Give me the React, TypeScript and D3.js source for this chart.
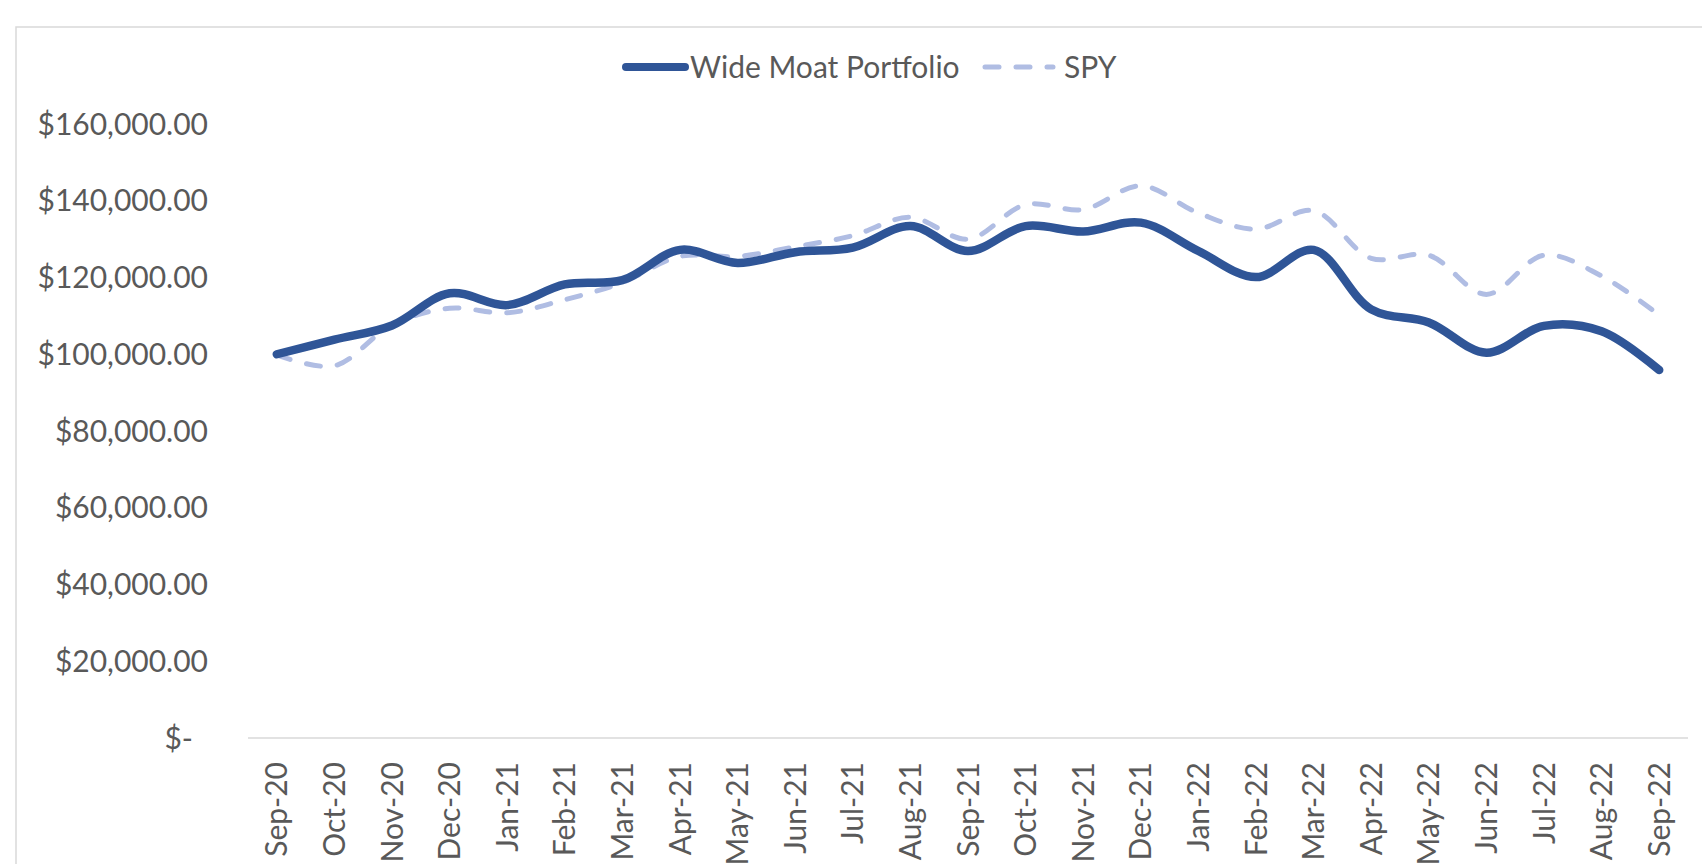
import * as d3 from 'd3';
import { useEffect } from 'react';

const months = ['Sep-20', 'Oct-20', 'Nov-20', 'Dec-20', 'Jan-21', 'Feb-21', 'Mar-21', 'Apr-21', 'May-21', 'Jun-21', 'Jul-21', 'Aug-21', 'Sep-21', 'Oct-21', 'Nov-21', 'Dec-21', 'Jan-22', 'Feb-22', 'Mar-22', 'Apr-22', 'May-22', 'Jun-22', 'Jul-22', 'Aug-22', 'Sep-22'];

const wideMoat = [100000, 103800, 107500, 115900, 112800, 118200, 119300, 127200, 123800, 126600, 127800, 133400, 126900, 133400, 132000, 134300, 126900, 120100, 127200, 111700, 108300, 100400, 107400, 106000, 95900];

const spy = [99800, 97000, 107700, 112000, 110800, 114200, 118700, 125500, 125500, 128000, 130900, 135700, 130000, 139000, 137700, 143900, 136800, 132600, 137400, 125000, 125800, 115600, 125800, 120400, 110200];

const yTicks = [0, 20000, 40000, 60000, 80000, 100000, 120000, 140000, 160000];

const seriesNames = ['Wide Moat Portfolio', 'SPY'];

function MoatChart() {
    const width = 1702;
    const height = 864;
    const margin = { top: 124, right: 1688, bottom: 738, left: 248 }
    const textColor = '#595959'
    const solidColor = '#2f5597'
    const dashColor = '#b0bde3'

    const xScale = d3.scaleBand()
        .domain(months)
        .range([margin.left, margin.right])

    const yScale = d3.scaleLinear()
        .domain([0, 160000])
        .range([margin.bottom, margin.top])

    const xPos = (i: number) => (xScale(months[i]) as number) + xScale.bandwidth() / 2

    const line = d3.line<number>()
        .x((d, i) => xPos(i))
        .y(d => yScale(d))
        .curve(d3.curveCatmullRom.alpha(0.5))

    const fmt = d3.format('$,.2f')

    useEffect(() => {
        document.body.style.margin = '0'
    }, [])

    return (
        <svg width={width} height={height} style={{ display: 'block', background: '#fff' }} fontFamily="Lato, 'Open Sans', sans-serif">
            {/* chart frame, cut off at right and bottom */}
            <rect x={16} y={27} width={width + 20} height={height + 20} fill="none" stroke="#d9d9d9" strokeWidth={1.5} />

            {/* y labels */}
            {yTicks.map(t => (
                <text key={t} x={t === 0 ? 193 : 208} y={yScale(t)} dy="0.35em" textAnchor="end" fontSize={30} fill={textColor}>
                    {t === 0 ? '$-' : fmt(t)}
                </text>
            ))}

            {/* x axis */}
            <line x1={margin.left} x2={margin.right} y1={yScale(0)} y2={yScale(0)} stroke="#d9d9d9" strokeWidth={1.5} />
            {months.map((m, i) => (
                <text key={m} transform={`translate(${xPos(i)}, ${yScale(0) + 24}) rotate(-90)`} dy="0.35em" textAnchor="end" fontSize={30} fill={textColor}>
                    {m}
                </text>
            ))}

            {/* series */}
            <path d={line(spy) || ''} fill="none" stroke={dashColor} strokeWidth={5} strokeDasharray="14 17" strokeLinecap="round" />
            <path d={line(wideMoat) || ''} fill="none" stroke={solidColor} strokeWidth={8.5} strokeLinecap="round" strokeLinejoin="round" />

            {/* legend */}
            <g>
                <line x1={626} x2={685} y1={67} y2={67} stroke={solidColor} strokeWidth={8} strokeLinecap="round" />
                <text x={690} y={67} dy="0.35em" fontSize={30} fill={textColor}>{seriesNames[0]}</text>
                <line x1={985} x2={1053} y1={67} y2={67} stroke={dashColor} strokeWidth={5} strokeDasharray="14 17" strokeLinecap="round" />
                <text x={1064} y={67} dy="0.35em" fontSize={30} fill={textColor}>{seriesNames[1]}</text>
            </g>
        </svg>
    );
}

export default function App() {
    return <MoatChart />
}
